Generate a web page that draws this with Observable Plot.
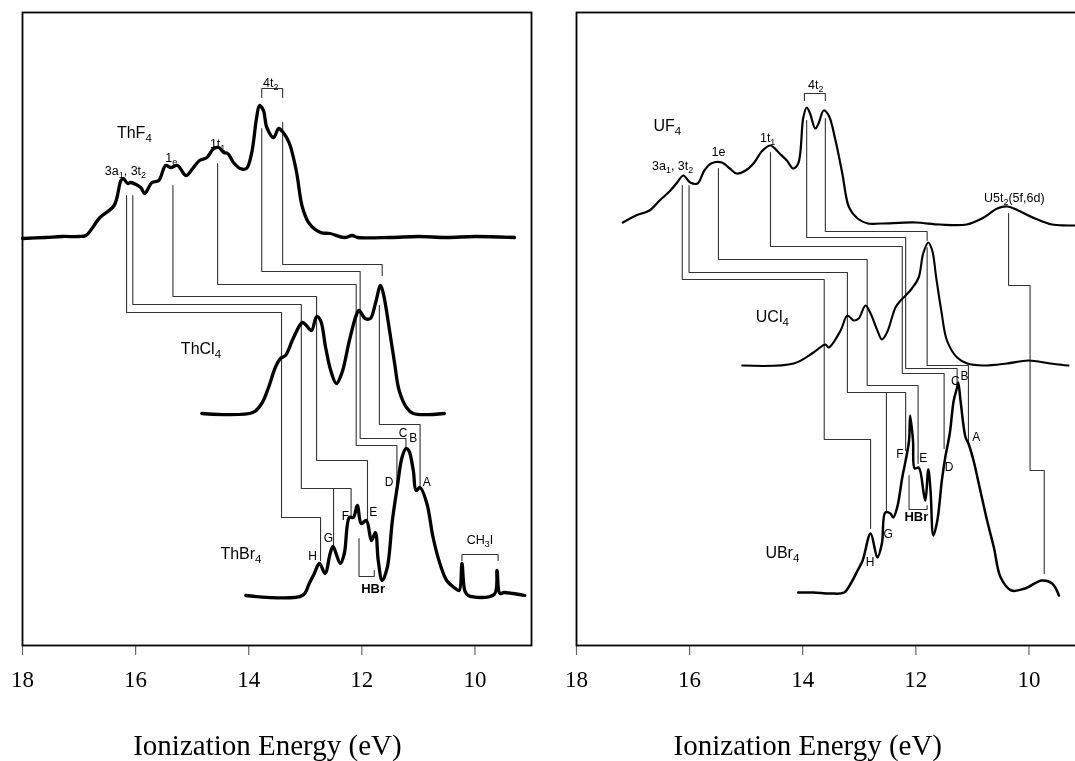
<!DOCTYPE html>
<html><head><meta charset="utf-8">
<script src="https://cdn.jsdelivr.net/npm/d3@7"></script>
<script src="https://cdn.jsdelivr.net/npm/@observablehq/plot@0.6"></script>
<style>
html,body{margin:0;padding:0;background:#fff;overflow:hidden;}
#wrap{position:relative;width:1075px;height:761px;overflow:hidden;background:#fff;}
#left,#right{position:absolute;top:0;width:553px;height:761px;will-change:transform;}
#left{left:0;} #right{left:553px;}
#wrap svg{max-width:none !important;width:553px;height:761px;}
#wrap svg text{-webkit-font-smoothing:antialiased;}
</style></head><body><div id="wrap"><div id="left"></div><div id="right"></div></div>
<script>
// ---------- tick values ----------
const xTicks = [18, 16, 14, 12, 10];
const axisTitle = "Ionization Energy (eV)";

// ---------- Thorium spectra (ionization energy eV, intensity a.u.) ----------
const thf4E = [18.0,17.6,17.3,17.0,16.88,16.63,16.38,16.26,16.22,16.14,16.09,15.91,15.84,15.71,15.59,15.47,15.38,15.26,15.11,14.99,14.87,14.74,14.62,14.53,14.44,14.37,14.27,14.15,14.04,13.95,13.86,13.81,13.74,13.68,13.56,13.47,13.39,13.28,13.16,13.05,12.93,12.73,12.56,12.31,12.17,12.07,11.5,11.0,10.5,10.0,9.30];
const thf4I = [0,1,2,2,3,21,33,58,60,55,56,51,45,56,58,73,71,73,63,70,78,81,90,91,86,85,76,70,70,85,121,133,128,111,101,110,106,95,68,31,15,6,5,1,3,1,1,2,1,2,1];
const thcl4E = [14.83,13.93,13.77,13.65,13.53,13.44,13.35,13.23,13.10,13.05,12.98,12.89,12.80,12.73,12.64,12.55,12.45,12.35,12.22,12.10,12.05,11.94,11.85,11.76,11.67,11.62,11.51,11.42,11.34,11.21,11.09,10.54];
const thcl4I = [0,1,10,26,46,55,58,73,88,91,88,83,97,93,66,43,30,41,73,98,103,95,95,110,128,120,83,50,23,6,0,0];
const thbr4E = [14.05,13.05,12.93,12.84,12.75,12.65,12.56,12.51,12.38,12.31,12.22,12.15,12.08,12.01,11.92,11.83,11.76,11.71,11.64,11.55,11.46,11.37,11.29,11.22,11.17,11.09,11.04,10.97,10.85,10.74,10.62,10.50,10.37,10.28,10.23,10.18,10.12,9.66,9.61,9.56,9.49,9.33,9.12];
const thbr4I = [0,0,12,22,32,22,42,49,32,42,78,78,90,72,75,55,63,35,15,28,75,110,138,147,145,125,105,108,92,58,32,15,8,5,32,5,0,1,25,2,3,2,0];
const thOffsets = [407, 232, 50]; // vertical stacking of ThF4, ThCl4, ThBr4

// ---------- Uranium spectra ----------
const uf4E = [17.18,16.95,16.71,16.53,16.34,16.22,16.11,15.99,15.86,15.74,15.62,15.43,15.29,15.17,15.01,14.87,14.71,14.57,14.41,14.28,14.17,14.08,13.99,13.93,13.87,13.78,13.72,13.63,13.54,13.42,13.30,13.18,13.03,12.85,12.61,12.01,11.58,11.10,10.80,10.56,10.38,10.19,9.89,9.59,9.18,9.0];
const uf4I = [2,9,14,24,34,42,49,42,41,54,61,62,56,51,54,61,74,79,71,64,56,61,107,117,111,96,101,114,109,84,51,17,6,1,1,2,0,0,7,16,18,14,6,0,-1,-1];
const ucl4E = [15.07,14.16,13.81,13.60,13.54,13.33,13.21,13.10,13.01,12.89,12.80,12.68,12.60,12.51,12.36,12.27,12.18,12.07,11.95,11.87,11.78,11.71,11.64,11.55,11.45,11.27,11.09,10.81,10.39,10.01,9.62,9.30];
const ucl4I = [0,2,13,21,18,35,50,45,47,60,52,35,26,33,58,65,70,77,88,112,123,115,88,55,25,8,2,0,2,5,2,0];
const ubr4E = [14.08,13.81,13.51,13.27,13.15,13.03,12.94,12.80,12.68,12.60,12.54,12.45,12.40,12.33,12.24,12.18,12.12,12.10,12.05,12.02,11.95,11.86,11.83,11.78,11.74,11.69,11.62,11.54,11.48,11.40,11.33,11.27,11.25,11.21,11.12,11.07,10.98,10.86,10.74,10.62,10.50,10.31,10.07,9.77,9.59,9.47];
const ubr4I = [0,0,-1,0,9,22,32,59,35,49,80,79,75,85,115,132,152,177,152,124,125,99,92,123,102,57,72,112,135,159,192,205,210,192,155,149,132,102,72,45,15,2,4,12,9,-3];
const uOffsets = [421, 280, 53]; // vertical stacking of UF4, UCl4, UBr4

// ---------- correlation lines [eV, level] ----------
const thLinks = [
  [[16.16,450],[16.16,333],[13.42,333],[13.42,128],[12.73,128],[12.73,85]],
  [[16.05,450],[16.05,341],[13.07,341],[13.07,157],[12.19,157],[12.19,128]],
  [[12.50,157],[12.50,99]],
  [[15.34,460],[15.34,349],[12.80,349],[12.80,185],[11.90,185],[11.90,125]],
  [[14.55,482],[14.55,361],[12.10,361],[12.10,200],[11.38,200],[11.38,162]],
  [[13.77,517],[13.77,374],[12.03,374],[12.03,207],[11.22,207],[11.22,198]],
  [[13.40,523],[13.40,381],[11.64,381],[11.64,370]],
  [[11.69,340],[11.69,221],[10.97,221],[10.97,160]]
];
const thBrackets = [
  [[13.77,548],[13.77,557],[13.40,557],[13.40,548]],
  [[12.05,107],[12.05,69],[11.78,69],[11.78,75]],
  [[10.23,85],[10.23,91],[9.59,91],[9.59,85]]
];
const uLinks = [
  [[16.13,460],[16.13,366],[13.62,366],[13.62,206],[12.80,206],[12.80,117]],
  [[16.01,460],[16.01,373],[13.21,373],[13.21,253],[12.18,253],[12.18,195]],
  [[12.52,253],[12.52,135]],
  [[15.49,477],[15.49,386],[12.86,386],[12.86,260],[11.96,260],[11.96,182]],
  [[14.57,493],[14.57,399],[12.24,399],[12.24,272],[11.50,272],[11.50,197]],
  [[13.93,525],[13.93,408],[12.18,408],[12.18,277],[11.27,277],[11.27,262]],
  [[13.60,527],[13.60,414],[11.80,414],[11.80,405]],
  [[11.80,398],[11.80,280],[11.07,280],[11.07,205]],
  [[10.36,432],[10.36,360],[9.98,360],[9.98,175],[9.73,175],[9.73,72]]
];
const uBrackets = [
  [[13.97,545],[13.97,552],[13.60,552],[13.60,545]],
  [[12.12,170],[12.12,136],[11.80,136],[11.80,140]]
];

// ---------- labels [text, eV, level] ----------
const thNames = [["ThF_4",16.33,513],["ThCl_4",15.20,297],["ThBr_4",14.50,92]];
const thOrbitals = [["4t_2",13.61,563],["1t_1",14.55,502],["1_e",15.37,488],["3a_1, 3t_2",16.18,475],["CH_3I",9.91,106]];
const thBands = [["H",12.87,89],["G",12.59,107],["F",12.29,129],["E",11.80,133],["D",11.52,163],["A",10.85,163],["C",11.27,212],["B",11.09,207]];
const thHBr = [["HBr",11.80,57]];
const uNames = [["UF_4",16.64,520],["UCl_4",14.83,329],["UBr_4",14.66,93]];
const uOrbitals = [["4t_2",13.77,561],["1t_1",14.62,508],["1e",15.49,494],["3a_1, 3t_2",16.30,480],["U5t_2(5f,6d)",10.26,448]];
const uBands = [["H",12.81,83],["G",12.49,111],["F",12.28,191],["E",11.87,187],["D",11.41,178],["A",10.93,208],["C",11.30,264],["B",11.14,269]];
const uHBr = [["HBr",11.99,129]];

const SANS = "'Liberation Sans', Arial, Helvetica, sans-serif";
const SERIF = "'Liberation Serif', 'Times New Roman', serif";

function toRows(list) { return list.map(([t, e, v]) => ({t, e, v})); }
function pathRows(paths) { return paths.flatMap((p, id) => p.map(([e, v]) => ({e, v, id}))); }

function panel(cfg) {
  const marks = [];
  marks.push(Plot.axisX({ticks: xTicks, tickSize: 10, tickPadding: 15, stroke: "#666", strokeWidth: 1.2, fill: "black",
    fontSize: 23, fontFamily: SERIF, label: null, tickFormat: d => String(d)}));
  marks.push(Plot.line(pathRows(cfg.links), {x: "e", y: "v", z: "id", stroke: "#333", strokeWidth: 1.1, strokeLinejoin: "miter"}));
  marks.push(Plot.line(pathRows(cfg.brackets), {x: "e", y: "v", z: "id", stroke: "#333", strokeWidth: 1.1, strokeLinejoin: "miter"}));
  cfg.spectra.forEach((s, k) => {
    const rows = s.e.map((e, i) => ({e, v: s.i[i] + cfg.offsets[k]}));
    marks.push(Plot.line(rows, {x: "e", y: "v", stroke: "black", strokeWidth: cfg.widths[k], curve: "catmull-rom", strokeLinejoin: "round"}));
  });
  marks.push(Plot.text(toRows(cfg.names), {x: "e", y: "v", text: "t", textAnchor: "start", fontSize: 16, fontFamily: SANS, fill: "black"}));
  marks.push(Plot.text(toRows(cfg.orbitals), {x: "e", y: "v", text: "t", fontSize: 12.5, fontFamily: SANS, fill: "black"}));
  marks.push(Plot.text(toRows(cfg.bands), {x: "e", y: "v", text: "t", fontSize: 12, fontFamily: SANS, fill: "black"}));
  marks.push(Plot.text(toRows(cfg.hbr), {x: "e", y: "v", text: "t", fontSize: 13, fontWeight: "bold", fontFamily: SANS, fill: "black"}));
  marks.push(Plot.text([{t: axisTitle, e: cfg.titleE}], {x: "e", y: () => -100, text: "t", fontSize: 29, fontFamily: SERIF, fill: "black"}));
  marks.push(Plot.frame({stroke: "black", strokeWidth: 1.8}));
  const svg = Plot.plot({
    width: 553, height: 761, marginTop: 12, marginBottom: 116,
    marginLeft: cfg.marginLeft, marginRight: cfg.marginRight,
    x: {domain: [18, 9]},
    y: {domain: [0, 633], axis: null},
    style: {background: "white", overflow: "visible", fontFamily: SERIF, maxWidth: "none"},
    marks
  });
  subscripts(svg);
  return svg;
}

function subscripts(svg) {
  const NS = "http://www.w3.org/2000/svg";
  svg.querySelectorAll("text").forEach(t => {
    const s = t.textContent;
    if (!s.includes("_")) return;
    while (t.firstChild) t.removeChild(t.firstChild);
    const parts = s.split(/_(.)/);
    let prevSub = false;
    parts.forEach((p, k) => {
      if (!p) return;
      const ts = document.createElementNS(NS, "tspan");
      ts.textContent = p;
      if (k % 2 === 1) {
        ts.setAttribute("font-size", "72%");
        ts.setAttribute("dy", "0.35em");
        prevSub = true;
      } else if (prevSub) {
        ts.setAttribute("dy", "-0.252em");
        prevSub = false;
      }
      t.appendChild(ts);
    });
  });
}

document.getElementById("left").appendChild(panel({
  spectra: [{e: thf4E, i: thf4I}, {e: thcl4E, i: thcl4I}, {e: thbr4E, i: thbr4I}],
  offsets: thOffsets, widths: [3.3, 3.3, 3.3],
  links: thLinks, brackets: thBrackets,
  names: thNames, orbitals: thOrbitals, bands: thBands, hbr: thHBr,
  titleE: 13.67, marginLeft: 22, marginRight: 22
}));
document.getElementById("right").appendChild(panel({
  spectra: [{e: uf4E, i: uf4I}, {e: ucl4E, i: ucl4I}, {e: ubr4E, i: ubr4I}],
  offsets: uOffsets, widths: [2.2, 2.1, 2.5],
  links: uLinks, brackets: uBrackets,
  names: uNames, orbitals: uOrbitals, bands: uBands, hbr: uHBr,
  titleE: 13.91, marginLeft: 23, marginRight: 21
}));
</script></body></html>
